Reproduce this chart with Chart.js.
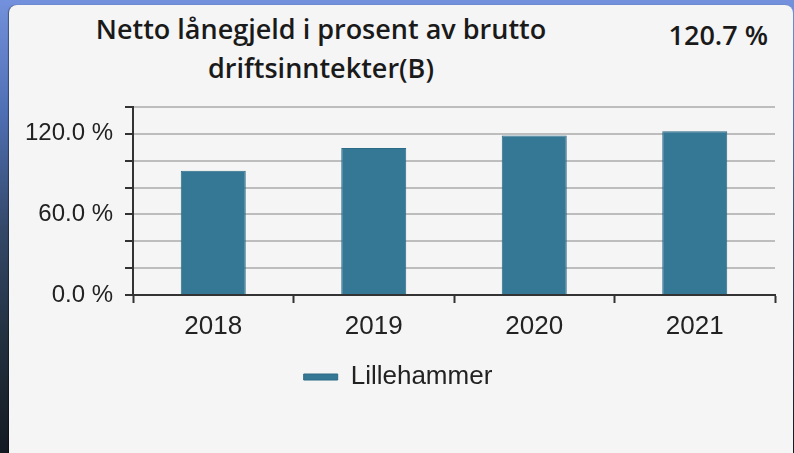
<!DOCTYPE html>
<html>
<head>
<meta charset="utf-8">
<script src="https://cdn.jsdelivr.net/npm/chart.js@4"></script>
<style>
  html, body { margin: 0; padding: 0; }
  body {
    width: 794px; height: 453px; overflow: hidden; position: relative;
    background: linear-gradient(180deg, #7391dc 0%, #4f6fb4 25%, #34496a 50%, #22303f 75%, #141a22 100%);
  }
  .card {
    position: absolute; left: 9px; top: 5px; width: 784px; height: 460px;
    background: #f5f5f5; border-radius: 8px 8px 0 0;
    box-shadow: -1px 0 1px rgba(0,0,0,0.4);
  }
  .title {
    position: absolute; left: 60px; top: 9px; width: 522px;
    font-family: "Open Sans", sans-serif; font-size: 27px; font-weight: 600;
    line-height: 39px; color: #1a1a1a; text-align: center;
  }
  .value {
    position: absolute; right: 26px; top: 15px;
    font-family: "Open Sans", sans-serif; font-size: 27px; font-weight: 600;
    line-height: 40px; color: #1a1a1a;
  }
  #wrap { position: absolute; left: 9px; top: 5px; width: 784px; height: 448px; }
</style>
</head>
<body>
<div class="card"></div>
<div class="title">Netto lånegjeld i prosent av brutto<br>driftsinntekter(B)</div>
<div class="value">120.7 %</div>
<div id="wrap"><canvas id="myChart" width="784" height="448"></canvas></div>

<script>
// chart data
const years = ['2018', '2019', '2020', '2021'];
const lillehammer = [92.5, 109.4, 118.7, 122.0];
const labelledTicks = [0, 60, 120];
const seriesName = 'Lillehammer';

const barColor = '#347896';
const textColor = '#222222';
const fontFamily = '"Liberation Sans", Arial, sans-serif';

const chart = document.getElementById('myChart');

new Chart(chart, {
    type: 'bar',
    data: {
        labels: years,
        datasets: [{
            label: seriesName,
            data: lillehammer,
            backgroundColor: barColor,
            borderColor: '#2c6a86',
            borderWidth: 1,
            categoryPercentage: 0.5,
            barPercentage: 0.81,
        }]
    },
    options: {
        responsive: false,
        animation: false,
        events: [],
        layout: { padding: { left: 0, right: 6, top: 102, bottom: 53 } },
        plugins: {
            title: { display: false },
            tooltip: { enabled: false },
            legend: {
                position: 'bottom',
                labels: {
                    boxWidth: 34,
                    boxHeight: 6,
                    padding: 10,
                    color: textColor,
                    font: { family: fontFamily, size: 26 }
                }
            }
        },
        scales: {
            x: {
                grid: {
                    drawOnChartArea: false,
                    drawTicks: true,
                    tickLength: 8,
                    tickColor: '#333333',
                    tickWidth: 2,
                },
                border: { color: '#333333', width: 2 },
                ticks: {
                    color: textColor,
                    padding: 8,
                    font: { family: fontFamily, size: 26 }
                },
                afterFit: (scale) => { scale.height = 59; }
            },
            y: {
                min: 0,
                max: 140,
                grid: {
                    color: '#bdbdbd',
                    lineWidth: 2,
                    tickLength: 8,
                    tickColor: '#333333',
                    tickWidth: 2,
                },
                border: { color: '#333333', width: 2 },
                ticks: {
                    stepSize: 20,
                    autoSkip: false,
                    color: textColor,
                    padding: 12,
                    font: { family: fontFamily, size: 24 },
                    callback: (value) => labelledTicks.includes(value) ? value.toFixed(1) + ' %' : ''
                },
                afterFit: (scale) => { scale.width = 124; }
            },
            // empty right margin box so the legend centres like the original
            yRight: {
                position: 'right',
                min: 0,
                max: 140,
                grid: { display: false },
                border: { display: false },
                ticks: { display: false },
                afterFit: (scale) => { scale.width = 12; }
            }
        }
    }
});
</script>
</body>
</html>
